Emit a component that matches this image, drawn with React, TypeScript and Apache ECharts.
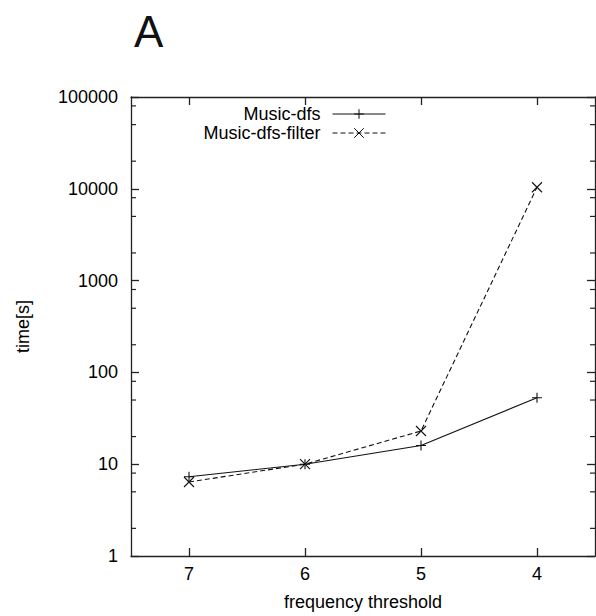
import React, { useEffect, useRef } from "react";
import * as echarts from "echarts";

const categories = ["7", "6", "5", "4"];
const musicDfs = [7.3, 10, 16, 53];
const musicDfsFilter = [6.4, 10, 23, 10400];
const minorTickValues = [
  2, 5, 8, 20, 50, 80, 200, 500, 800, 2000, 5000, 8000, 20000, 50000, 80000,
];

const FONT = "'Liberation Sans', Arial, Helvetica, sans-serif";
const PLUS = "path://M0,-5L0,5M-5,0L5,0";
const CROSS = "path://M-5,-5L5,5M-5,5L5,-5";
const FS = 18;

export default function App() {
  const ref = useRef<HTMLDivElement>(null);
  useEffect(() => {
    if (!ref.current) return;
    const chart = echarts.init(ref.current, undefined, { renderer: "svg" });
    const axisColor = "#222";
    const yCommon = {
      type: "log" as const,
      logBase: 10,
      min: 1,
      max: 100000,
      interval: 1,
      splitLine: { show: false },
    };
    chart.setOption({
      animation: false,
      backgroundColor: "#fff",
      textStyle: { fontFamily: FONT },
      graphic: [
        {
          type: "text",
          left: 134,
          top: 9,
          style: {
            text: "A",
            fontSize: 44,
            fontFamily: FONT,
            fill: "#111",
          },
        },
      ],
      grid: { left: 131, right: 1, top: 97, bottom: 60, containLabel: false },
      legend: {
        orient: "vertical",
        right: 205,
        top: 100,
        align: "right",
        itemWidth: 53,
        itemHeight: 12,
        itemGap: 1,
        selectedMode: false,
        lineStyle: { width: 1 },
        itemStyle: { borderWidth: 1 },
        textStyle: {
          fontSize: FS,
          fontFamily: FONT,
          color: "#000",
          padding: [0, 7, 0, 0],
          lineHeight: 18,
        },
        data: ["Music-dfs", "Music-dfs-filter"],
      },
      xAxis: [
        {
          type: "category",
          data: categories,
          boundaryGap: true,
          position: "bottom",
          name: "frequency threshold",
          nameLocation: "middle",
          nameGap: 37,
          nameTextStyle: { fontSize: FS, color: "#000", fontFamily: FONT },
          axisLine: { show: true, lineStyle: { color: axisColor, width: 1.3 } },
          axisTick: {
            show: true,
            inside: true,
            alignWithLabel: true,
            length: 8,
            lineStyle: { color: axisColor, width: 1.3 },
          },
          axisLabel: {
            fontSize: FS,
            color: "#000",
            margin: 9,
            fontFamily: FONT,
          },
          splitLine: { show: false },
        },
        {
          type: "category",
          data: categories,
          boundaryGap: true,
          position: "top",
          axisLine: { show: true, lineStyle: { color: axisColor, width: 1.3 } },
          axisTick: {
            show: true,
            inside: true,
            alignWithLabel: true,
            length: 8,
            lineStyle: { color: axisColor, width: 1.3 },
          },
          axisLabel: { show: false },
          splitLine: { show: false },
        },
      ],
      yAxis: [
        {
          ...yCommon,
          position: "left",
          name: "time[s]",
          nameLocation: "middle",
          nameGap: 99,
          nameTextStyle: { fontSize: FS, color: "#000", fontFamily: FONT },
          axisLine: { show: true, lineStyle: { color: axisColor, width: 1.3 } },
          axisTick: {
            show: true,
            inside: true,
            length: 8,
            lineStyle: { color: axisColor, width: 1.3 },
          },
          axisLabel: {
            fontSize: FS,
            color: "#000",
            margin: 13,
            fontFamily: FONT,
            formatter: (v: number) => String(Math.round(v)),
          },
        },
        {
          ...yCommon,
          position: "right",
          axisLine: { show: true, lineStyle: { color: axisColor, width: 1.3 } },
          axisTick: {
            show: true,
            inside: true,
            length: 8,
            lineStyle: { color: axisColor, width: 1.3 },
          },
          axisLabel: { show: false },
        },
      ],
      series: [
        {
          name: "Music-dfs",
          type: "line",
          data: musicDfs,
          xAxisIndex: 0,
          yAxisIndex: 0,
          symbol: PLUS,
          symbolSize: 10,
          lineStyle: { color: "#111", width: 1.1, type: "solid" },
          itemStyle: { color: "#111", borderColor: "#111", borderWidth: 1.1 },
          emphasis: { disabled: true },
        },
        {
          name: "Music-dfs-filter",
          type: "line",
          data: musicDfsFilter,
          xAxisIndex: 0,
          yAxisIndex: 0,
          symbol: CROSS,
          symbolSize: 10,
          lineStyle: { color: "#111", width: 1.1, type: [5, 3] },
          itemStyle: { color: "#111", borderColor: "#111", borderWidth: 1.1 },
          emphasis: { disabled: true },
        },
        {
          name: "minorTicks",
          type: "custom",
          xAxisIndex: 0,
          yAxisIndex: 0,
          silent: true,
          data: minorTickValues.map((v) => [0, v]),
          encode: { y: 1 },
          renderItem: (params: any, api: any) => {
            const cs = params.coordSys;
            const y = api.coord([0, api.value(1)])[1];
            const style = { stroke: axisColor, lineWidth: 1.2 };
            return {
              type: "group",
              children: [
                {
                  type: "line",
                  shape: { x1: cs.x, y1: y, x2: cs.x + 5, y2: y },
                  style,
                },
                {
                  type: "line",
                  shape: {
                    x1: cs.x + cs.width,
                    y1: y,
                    x2: cs.x + cs.width - 5,
                    y2: y,
                  },
                  style,
                },
              ],
            };
          },
        },
      ],
    });
    return () => chart.dispose();
  }, []);
  return (
    <div
      ref={ref}
      style={{ position: "fixed", left: 0, top: 0, width: 596, height: 616 }}
    />
  );
}
